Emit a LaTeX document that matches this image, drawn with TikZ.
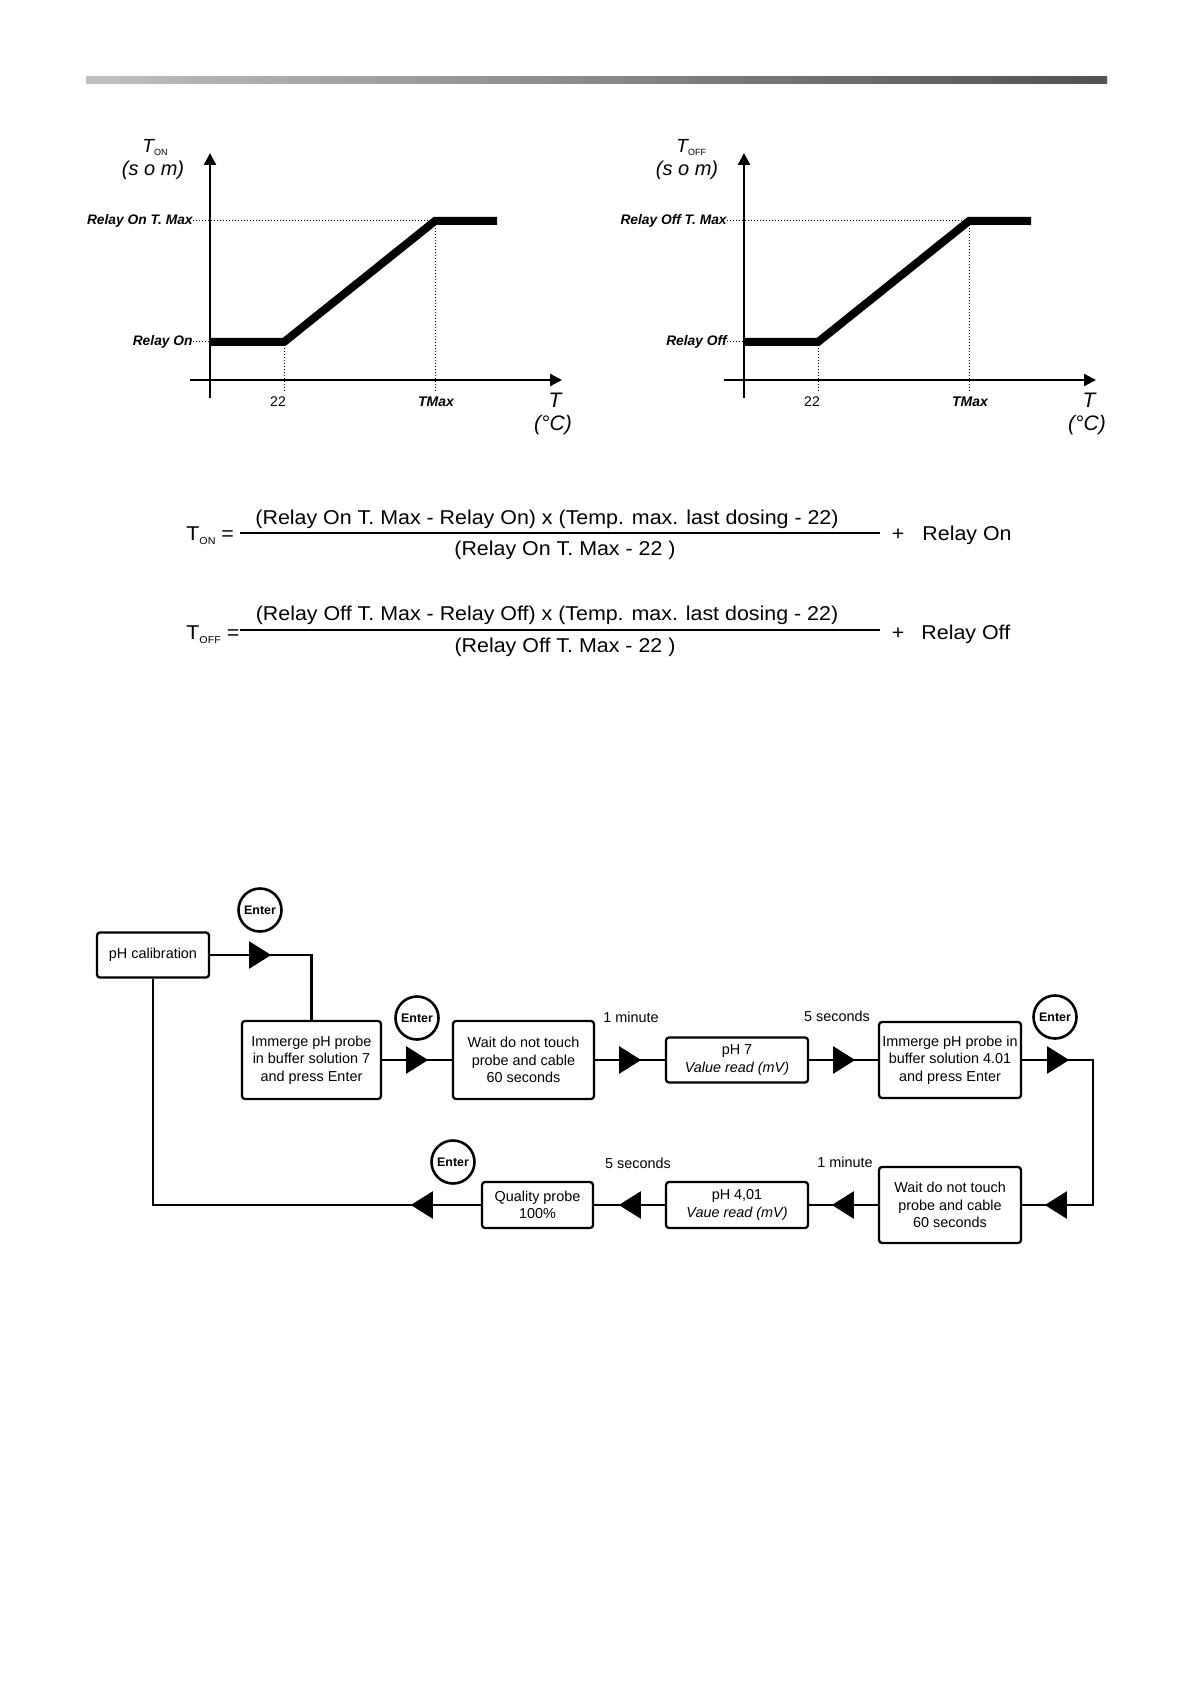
\documentclass[tikz,border=0pt]{standalone}
\usepackage{fontspec}
\setmainfont{Liberation Sans}
\newfontfamily\formfont[FakeStretch=1.07]{Liberation Sans}
\usetikzlibrary{arrows.meta,decorations.markings}

\tikzset{
  flowtip/.tip={Triangle[length=11pt,width=13.5pt]},
  stepbox/.style={draw, line width=1.15pt, rounded corners=1.5pt, align=center,
    inner sep=0pt, font=\fontsize{7.2}{8.8}\selectfont},
  enterkey/.style={draw, circle, line width=1.3pt, minimum size=21.5pt,
    inner sep=0pt, font=\fontsize{6.2}{7}\selectfont\bfseries},
  delaylbl/.style={font=\fontsize{7.2}{8}\selectfont},
  flow/.style={line width=1.15pt},
  midtip/.style={postaction={decorate}, decoration={markings,
    mark=at position #1 with {\arrow{flowtip}}}},
  midtip/.default=23pt,
  twotips/.style={postaction={decorate}, decoration={markings,
    mark=at position 23.5pt with {\arrow{flowtip}},
    mark=at position 132pt with {\arrow{flowtip}}}},
  axisline/.style={line width=1.2pt, -{Triangle[length=6pt,width=6pt]}},
  relay curve/.style={line width=4pt},
  guideline/.style={line width=0.5pt, dash pattern=on 0.5pt off 1pt},
  lvlbl/.style={anchor=east, inner sep=0pt, font=\fontsize{6.9}{8}\selectfont\bfseries\itshape},
  ticklbl/.style={font=\fontsize{7}{8}\selectfont},
  unitlbl/.style={font=\fontsize{10.5}{12}\selectfont\itshape},
  formtext/.style={font=\formfont\fontsize{10}{12}\selectfont, inner sep=0pt}
}

\begin{document}
\begin{tikzpicture}[x=0.5pt, y=-0.5pt]
\useasboundingbox (0,0) rectangle (1191,1684);
\shade[left color=black!25, right color=black!68] (86,77) rectangle (1107,84);

\foreach \dx/\word/\sfx in {0/On/ON, 534/Off/OFF}{
  \begin{scope}[shift={(\dx,0)}]
    \draw[axisline] (210,398) -- (210,153);
    \draw[axisline] (190,380) -- (562,380);
    \node[lvlbl] (top\sfx) at (193,221) {Relay \word\ T. Max};
    \node[lvlbl] (low\sfx) at (193,342) {Relay \word};
    \draw[guideline] (top\sfx.east) -- (435,221) -- (435,392);
    \draw[guideline] (low\sfx.east) -- (210,342);
    \draw[guideline] (284,342) -- (284,392);
    \draw[relay curve] (210,342) -- (284,342) -- (435,221) -- (497,221);
    \node[ticklbl] (tmin\sfx) at (278,402) {22};
    \node[ticklbl, font=\fontsize{7}{8}\selectfont\bfseries\itshape] (tmax\sfx) at (436,402) {TMax};
    \node[unitlbl] (tax\sfx) at (555,400) {T};
    \node[unitlbl] (deg\sfx) at (553,425) {(°C)};
    \node[unitlbl, font=\fontsize{9.5}{11}\selectfont\itshape, anchor=west, inner sep=0pt]
      (ttl\sfx) at (142,148) {T\raisebox{-1.5pt}{\fontsize{4.5}{5}\selectfont\upshape\sfx}};
    \node[unitlbl, font=\fontsize{10}{12}\selectfont\itshape] (som\sfx) at (153,170) {(s o m)};
  \end{scope}
}

\node[formtext, anchor=base west] (ton) at (186,540) {T\raisebox{-2pt}{\fontsize{5}{6}\selectfont ON} =};
\draw[line width=0.75pt] (240,533) -- (880,533);
\node[formtext, anchor=base] (num1) at (547,524) {(Relay On T. Max - Relay On) x (Temp. max. last dosing - 22)};
\node[formtext, anchor=base] (den1) at (565,555) {(Relay On T. Max - 22 )};
\node[formtext, anchor=base] (plus1) at (898,540) {+};
\node[formtext, anchor=base west] (add1) at (922,540) {Relay On};

\node[formtext, anchor=base west] (toff) at (186,639) {T\raisebox{-2pt}{\fontsize{5}{6}\selectfont OFF} =};
\draw[line width=0.75pt] (240,630) -- (880,630);
\node[formtext, anchor=base] (num2) at (547,620) {(Relay Off T. Max - Relay Off) x (Temp. max. last dosing - 22)};
\node[formtext, anchor=base] (den2) at (565,652) {(Relay Off T. Max - 22 )};
\node[formtext, anchor=base] (plus2) at (898,639) {+};
\node[formtext, anchor=base west] (add2) at (921,639) {Relay Off};

\node[stepbox, minimum width=56pt, minimum height=22.5pt] (calib) at (153,955) {pH calibration};
\node[stepbox, minimum width=69.5pt, minimum height=39pt] (imm7) at (311.5,1060)
  {Immerge pH probe\\in buffer solution 7\\and press Enter};
\node[stepbox, minimum width=70.5pt, minimum height=39pt] (wait1) at (523.5,1060)
  {Wait do not touch\\probe and cable\\60 seconds};
\node[stepbox, minimum width=71pt, minimum height=22.5pt] (ph7) at (737,1060)
  {pH 7\\\textit{Value read (mV)}};
\node[stepbox, minimum width=71pt, minimum height=38pt] (imm4) at (950,1060)
  {Immerge pH probe in\\buffer solution 4.01\\and press Enter};
\node[stepbox, minimum width=71pt, minimum height=38pt] (wait2) at (950,1205)
  {Wait do not touch\\probe and cable\\60 seconds};
\node[stepbox, minimum width=71pt, minimum height=23pt] (ph4) at (737,1205)
  {pH 4,01\\\textit{Vaue read (mV)}};
\node[stepbox, minimum width=55.5pt, minimum height=23pt] (quality) at (537.5,1205)
  {Quality probe\\100\%};

\node[enterkey] (enter1) at (260,910) {Enter};
\node[enterkey] (enter2) at (417,1018) {Enter};
\node[enterkey] (enter3) at (1055,1017) {Enter};
\node[enterkey] (enter4) at (453,1162) {Enter};

\node[delaylbl] (min1) at (631,1017) {1 minute};
\node[delaylbl] (sec1) at (837,1016) {5 seconds};
\node[delaylbl] (min2) at (845,1162) {1 minute};
\node[delaylbl] (sec2) at (638,1163) {5 seconds};

\coordinate (turn) at (1093,1060);
\draw[flow, midtip=30.5pt] (calib.east) -| (imm7.north);
\draw[flow, midtip] (imm7.east) -- (wait1.west);
\draw[flow, midtip] (wait1.east) -- (ph7.west);
\draw[flow, midtip] (ph7.east) -- (imm4.west);
\draw[flow, twotips] (imm4.east) -- (turn) |- (wait2.east);
\draw[flow, midtip] (wait2.west) -- (ph4.east);
\draw[flow, midtip] (ph4.west) -- (quality.east);
\draw[flow, midtip=35pt] (quality.west) -| (calib.south);
\end{tikzpicture}
\end{document}
